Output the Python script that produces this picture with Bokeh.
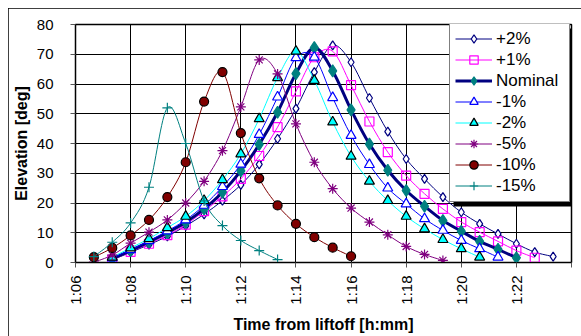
import numpy as np
from bokeh.plotting import figure
from bokeh.models import FixedTicker, Legend, LegendItem, Range1d, BoxAnnotation
from bokeh.embed import file_html
from bokeh.resources import INLINE

# Sample times (h:mm:ss from liftoff)
TIMES = ["1:06:40", "1:07:20", "1:08:00", "1:08:40", "1:09:20", "1:10:00",
         "1:10:40", "1:11:20", "1:12:00", "1:12:40", "1:13:20", "1:14:00",
         "1:14:40", "1:15:20", "1:16:00", "1:16:40", "1:17:20", "1:18:00",
         "1:18:40", "1:19:20", "1:20:00", "1:20:40", "1:21:20", "1:22:00",
         "1:22:40", "1:23:20"]

# Elevation [deg] per series, with index of first sample in TIMES
PLUS2 = [0.9, 3.4, 6.0, 8.8, 12.3, 16.2, 20.8, 26.1, 33.0, 41.6, 51.7, 64.0, 73.0,
         67.3, 55.3, 44.0, 34.8, 28.1, 22.0, 16.9, 13.0, 9.6, 6.3, 3.5, 2.0]
PLUS1 = [1.0, 3.6, 6.3, 9.2, 12.7, 17.3, 22.2, 28.1, 35.8, 45.5, 57.5, 69.0, 71.0,
         59.6, 47.4, 37.1, 29.2, 23.1, 18.0, 13.6, 10.2, 7.1, 4.0, 1.6]
NOMINAL = [1.3, 4.0, 6.9, 10.0, 13.5, 18.0, 23.6, 30.8, 39.7, 50.5, 63.5, 72.2, 64.4,
           51.3, 39.8, 31.0, 24.2, 18.9, 14.1, 10.5, 7.1, 4.4, 1.6]
MINUS1 = [1.5, 4.3, 7.3, 10.6, 14.3, 19.2, 25.5, 33.0, 43.0, 55.6, 68.8, 69.0, 55.4,
          42.7, 32.9, 25.0, 19.7, 14.7, 10.8, 7.4, 4.6, 1.8]
MINUS2 = [1.8, 4.9, 8.0, 11.7, 15.5, 20.8, 27.8, 36.5, 48.3, 62.1, 71.0, 61.2, 47.2,
          35.7, 27.3, 20.8, 15.5, 11.3, 7.7, 4.6, 1.8]
MINUS5 = [0.1, 2.5, 6.5, 10.2, 14.3, 20.0, 27.3, 37.6, 52.3, 68.1, 63.4, 46.6, 33.7,
          24.8, 18.3, 13.6, 9.3, 5.4, 2.7, 0.7]
MINUS10 = [1.8, 4.9, 9.1, 14.3, 22.0, 33.7, 54.1, 64.0, 43.5, 28.3, 19.2, 13.0, 8.5,
           5.0, 2.1]
MINUS15 = [2.0, 6.8, 13.3, 25.3, 52.0, 40.0, 20.7, 12.4, 7.4, 4.0, 1.0]

SERIES = [  # name, values, first index
    ("+2%", PLUS2, 1),
    ("+1%", PLUS1, 1),
    ("Nominal", NOMINAL, 1),
    ("-1%", MINUS1, 1),
    ("-2%", MINUS2, 1),
    ("-5%", MINUS5, 0),
    ("-10%", MINUS10, 0),
    ("-15%", MINUS15, 0),
]

X_TICKS = [66, 68, 70, 72, 74, 76, 78, 80, 82, 84]
X_TICK_LABELS = ["1:06", "1:08", "1:10", "1:12", "1:14", "1:16", "1:18", "1:20", "1:22", ""]
Y_TICKS = [0, 10, 20, 30, 40, 50, 60, 70, 80]

STYLES = {
    "+2%": dict(line="#000080", lw=1, marker="diamond", size=9, fill="white", mline="#000080"),
    "+1%": dict(line="#FF00FF", lw=1, marker="square", size=9, fill=None, mline="#FF00FF"),
    "Nominal": dict(line="#000080", lw=3, marker="diamond", size=12, fill="#008080", mline="#008080"),
    "-1%": dict(line="#0000FF", lw=1, marker="triangle", size=10, fill="white", mline="#0000FF"),
    "-2%": dict(line="#00FFFF", lw=1, marker="triangle", size=10, fill="#00FFFF", mline="black"),
    "-5%": dict(line="#800080", lw=1, marker="asterisk", size=10, fill=None, mline="#800080"),
    "-10%": dict(line="#800000", lw=1, marker="circle", size=9, fill="#800000", mline="black"),
    "-15%": dict(line="#008080", lw=1, marker="cross", size=10, fill=None, mline="#008080"),
}

FONT = "Liberation Sans"

# layout constants (figure pixels)
W, H = 573, 328
BL, BR, BT, BB = 67, 10, 16, 74
LEG_PAD, LEG_GLYPH_W, LEG_STANDOFF, LEG_LABEL_W, LEG_ROW = 5, 37, 4, 68, 21
SHADOW = 4


def to_min(s):
    h, m, sec = (int(v) for v in s.split(":"))
    return h * 60 + m + sec / 60.0


def smooth_segments(x, y, t=1.0 / 6.0):
    x = np.asarray(x, float)
    y = np.asarray(y, float)
    n = len(x)
    xp = np.concatenate([[x[0]], x, [x[-1]]])
    yp = np.concatenate([[y[0]], y, [y[-1]]])
    cx0 = x[:-1] + (xp[2:n + 1] - xp[0:n - 1]) * t
    cy0 = y[:-1] + (yp[2:n + 1] - yp[0:n - 1]) * t
    cx1 = x[1:] - (xp[3:n + 2] - xp[1:n]) * t
    cy1 = y[1:] - (yp[3:n + 2] - yp[1:n]) * t
    return dict(x0=x[:-1], y0=y[:-1], x1=x[1:], y1=y[1:],
                cx0=cx0, cy0=cy0, cx1=cx1, cy1=cy1)


p = figure(width=W, height=H, output_backend="svg", toolbar_location=None,
           x_range=Range1d(66, 84), y_range=Range1d(0, 80),
           min_border_left=BL, min_border_right=BR, min_border_top=BT,
           min_border_bottom=BB)
p.styles = {"margin-left": "8px", "margin-top": "8px",
            "outline": "1px solid #000000", "outline-offset": "-1px"}
p.background_fill_color = "white"
p.border_fill_color = "white"
p.outline_line_color = "black"
p.outline_line_width = 1.5

for ax in (p.xaxis[0], p.yaxis[0]):
    ax.axis_line_color = "black"
    ax.axis_line_width = 1
    ax.major_tick_line_color = "#555555"
    ax.major_tick_in = 0
    ax.major_tick_out = 5
    ax.minor_tick_line_color = None
    ax.major_label_text_font = FONT
    ax.major_label_text_font_size = "15px"
    ax.major_label_text_color = "black"
    ax.axis_label_text_font = FONT
    ax.axis_label_text_font_size = "16px"
    ax.axis_label_text_font_style = "bold"
    ax.axis_label_text_color = "black"

p.xaxis.ticker = FixedTicker(ticks=X_TICKS)
p.xaxis.major_label_overrides = {k: v for k, v in zip(X_TICKS, X_TICK_LABELS)}
p.xaxis.major_label_orientation = np.pi / 2
p.xaxis.major_label_standoff = 8
p.xaxis.axis_label = "Time from liftoff [h:mm]"
p.xaxis.axis_label_standoff = 8

p.yaxis.ticker = FixedTicker(ticks=Y_TICKS)
p.yaxis.major_label_standoff = 17
p.yaxis.axis_label = "Elevation [deg]"
p.yaxis.axis_label_standoff = 4

p.xgrid.grid_line_color = "black"
p.ygrid.grid_line_color = "black"
p.xgrid.grid_line_width = 1
p.ygrid.grid_line_width = 1

items = []
for name, vals, start in SERIES:
    st = STYLES[name]
    xs = [to_min(s) for s in TIMES[start:start + len(vals)]]
    seg = smooth_segments(xs, vals)
    r_line = p.bezier(x0="x0", y0="y0", x1="x1", y1="y1", cx0="cx0", cy0="cy0",
                      cx1="cx1", cy1="cy1", source=seg,
                      line_color=st["line"], line_width=st["lw"])
    r_mark = p.scatter(xs, vals, marker=st["marker"], size=st["size"],
                       line_color=st["mline"], line_width=1.2,
                       fill_color=st["fill"])
    items.append(LegendItem(label=name, renderers=[r_line, r_mark]))

# legend box geometry (placed so that its drop shadow ends at the frame edge)
frame_w = W - BL - BR
frame_h = H - BT - BB
leg_w = 2 * LEG_PAD + LEG_GLYPH_W + LEG_STANDOFF + LEG_LABEL_W
leg_h = 2 * LEG_PAD + LEG_ROW * len(items)
leg_x = frame_w - leg_w - SHADOW + 1
leg_left_canvas = BL + leg_x

shadow = BoxAnnotation(left=leg_left_canvas + SHADOW, right=leg_left_canvas + leg_w + SHADOW,
                       top=BT + SHADOW, bottom=BT + leg_h + SHADOW,
                       left_units="canvas", right_units="canvas",
                       top_units="canvas", bottom_units="canvas",
                       fill_color="black", fill_alpha=1.0, line_color=None)
p.add_layout(shadow)

legend = Legend(items=items, location=(leg_x, frame_h - leg_h))
legend.margin = 0
legend.padding = LEG_PAD
legend.spacing = 0
legend.glyph_width = LEG_GLYPH_W
legend.glyph_height = LEG_ROW
legend.label_height = LEG_ROW
legend.label_width = LEG_LABEL_W
legend.label_standoff = LEG_STANDOFF
legend.label_text_font = FONT
legend.label_text_font_size = "17px"
legend.label_text_color = "black"
legend.border_line_color = "black"
legend.border_line_width = 1
legend.background_fill_color = "white"
legend.background_fill_alpha = 1.0
p.add_layout(legend, "center")

open("out.html", "w").write(file_html(p, INLINE))
